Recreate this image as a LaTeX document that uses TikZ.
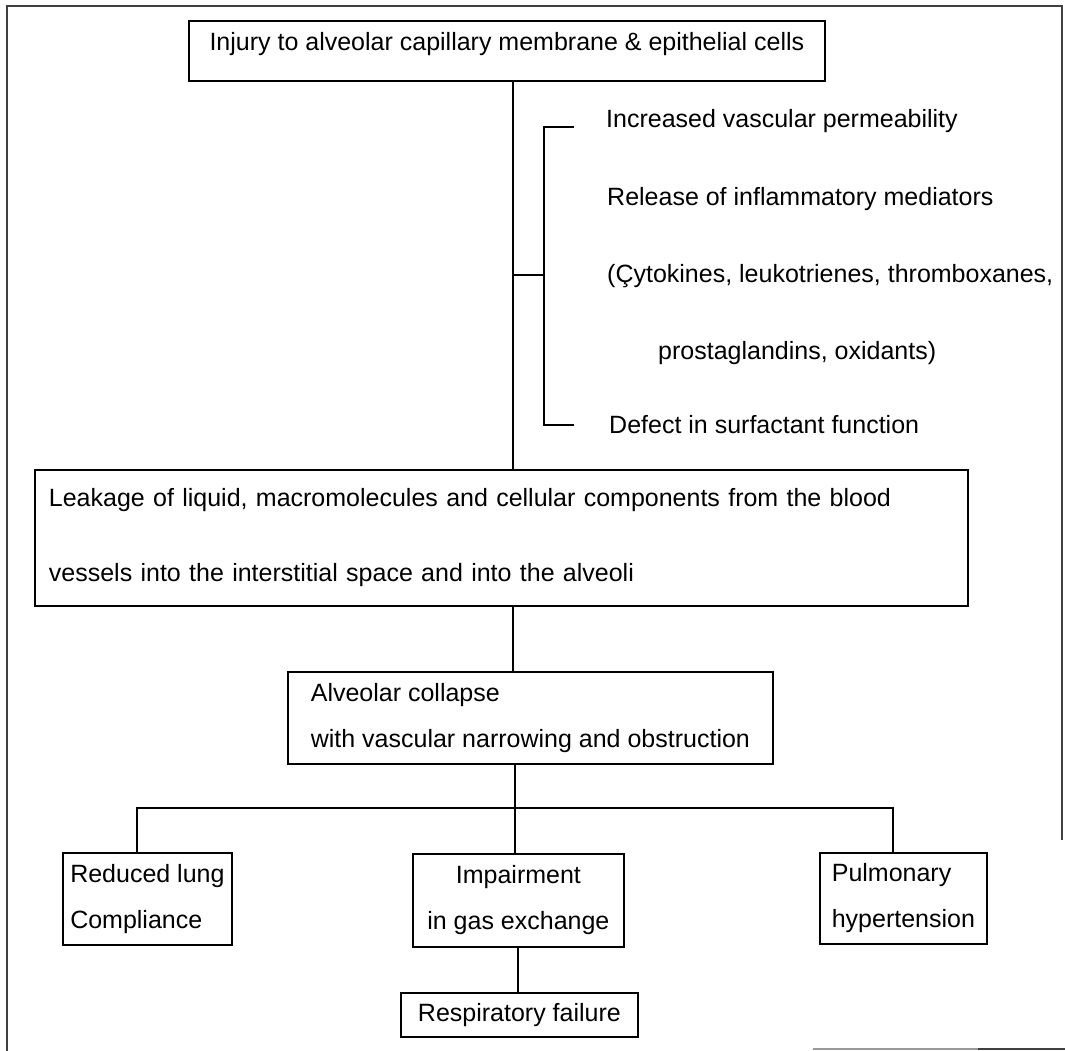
\documentclass[tikz,border=0pt]{standalone}
\usepackage{fontspec}
\setmainfont{Liberation Sans}
\usepackage{tikz}

\tikzset{
  box/.style={draw, line width=1.8pt, inner sep=0pt, anchor=north west},
  txt/.style={inner sep=0pt, anchor=base west},
  link/.style={line width=1.8pt},
  frame/.style={line width=1.2pt, black!75}
}

\begin{document}
\begin{tikzpicture}[x=1pt, y=-1pt, font=\fontsize{25}{46}\selectfont]
  \useasboundingbox (0,0) rectangle (1065,1051);
  % page frame
  \draw[frame] (7,1051) -- (7,6) -- (1062,6) -- (1062,840);
  \draw[frame, black!40] (813,1049) -- (978,1049);
  \draw[frame] (978,1049) -- (1065,1049);
  % boxes
  \node[box, minimum width=636pt, minimum height=60pt, text height=30pt, text depth=30pt]
    (injury) at (188,20) {Injury to alveolar capillary membrane \& epithelial cells};
  \node[box, minimum width=933pt, minimum height=136pt, text width=905pt, inner xsep=14pt,
    align=left, font=\fontsize{25}{75}\selectfont] (leak) at (34,469)
    {Leakage of liquid, macromolecules and cellular components from the blood\\
     vessels into the interstitial space and into the alveoli};
  \node[box, minimum width=485pt, minimum height=92pt, align=left] (collapse) at (287,671)
    {Alveolar collapse\\ with vascular narrowing and obstruction};
  \node[box, minimum width=169pt, minimum height=92pt, align=left] (reduced) at (62,852)
    {Reduced lung\\ Compliance};
  \node[box, minimum width=211pt, minimum height=93pt, align=center] (impair) at (412,853)
    {Impairment\\ in gas exchange};
  \node[box, minimum width=167pt, minimum height=91pt, align=left] (pulm) at (819,852)
    {Pulmonary\\ hypertension};
  \node[box, minimum width=237pt, minimum height=44pt] (resp) at (400,992)
    {Respiratory failure};
  % side list
  \node[txt] (perm) at (606,128) {Increased vascular permeability};
  \node[txt] (release) at (607,205) {Release of inflammatory mediators};
  \node[txt] (cyto) at (607,282) {(Çytokines, leukotrienes, thromboxanes,};
  \node[txt] (prosta) at (658,359) {prostaglandins, oxidants)};
  \node[txt] (defect) at (609,433) {Defect in surfactant function};
  % connectors
  \coordinate (trunk) at (513,0);
  \coordinate (brmid) at (544,275);
  \coordinate (tickA) at (574,127);
  \coordinate (tickB) at (574,425);
  \coordinate (brbot) at (544,425);
  \draw[link] (injury.south -| trunk) -- (leak.north -| trunk);
  \draw[link] (brmid -| trunk) -- (brmid);
  \draw[link] (tickA) -| (brbot) -- (tickB);
  \draw[link] (leak.south -| trunk) -- (collapse.north -| trunk);
  \coordinate (bus) at (515,808);
  \coordinate (busL) at (137,808);
  \coordinate (busR) at (893,808);
  \coordinate (respx) at (518,0);
  \draw[link] (collapse.south -| bus) -- (impair.north -| bus);
  \draw[link] (reduced.north -| busL) -- (busL) -- (busR) -- (pulm.north -| busR);
  \draw[link] (impair.south -| respx) -- (resp.north -| respx);
\end{tikzpicture}
\end{document}
